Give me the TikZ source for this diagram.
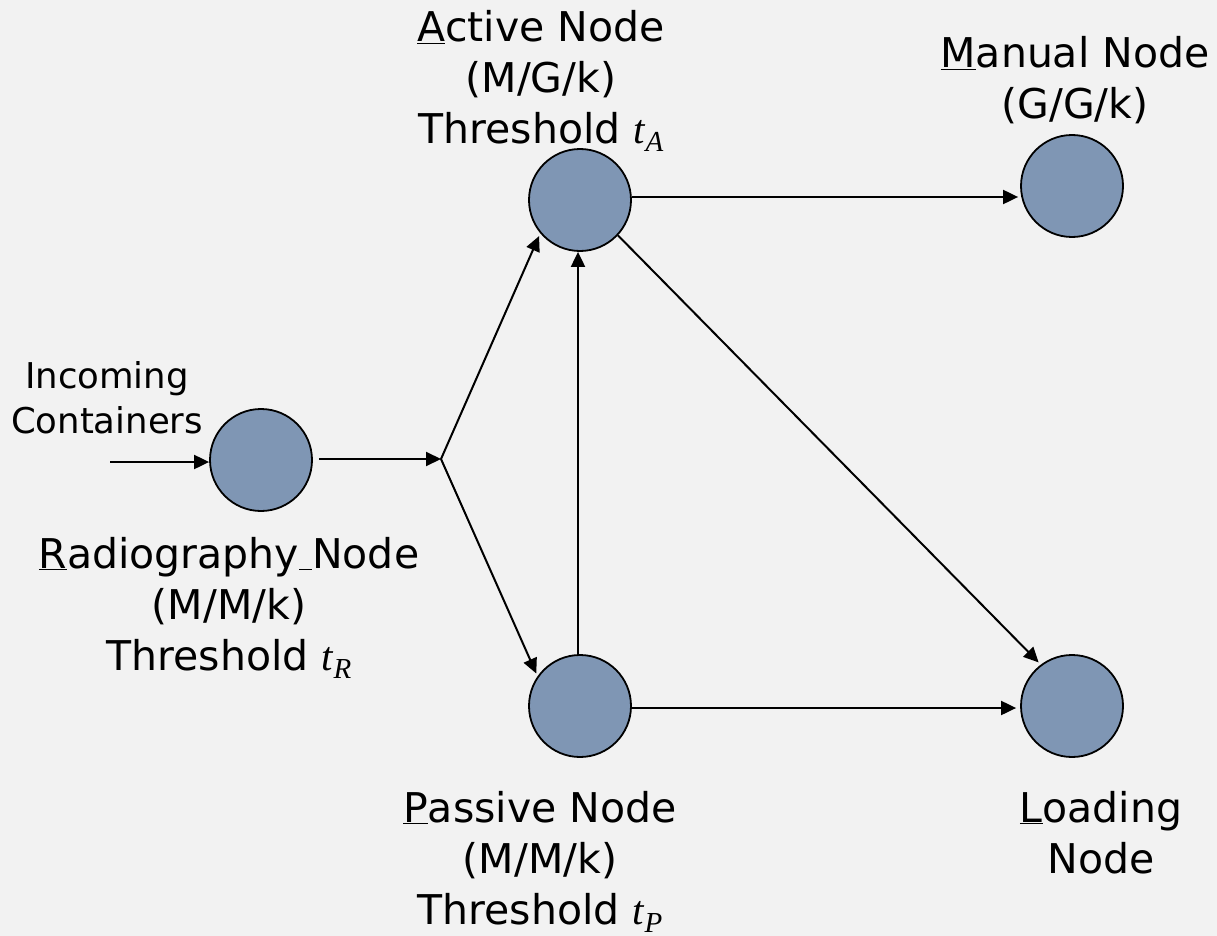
\documentclass[tikz,border=0pt]{standalone}
\usepackage{fontspec}
\setmainfont{DejaVu Sans}
\newfontfamily\tfont{Liberation Serif}
\usetikzlibrary{arrows.meta}
\definecolor{bg}{RGB}{242,242,242}
\definecolor{nodefill}{RGB}{127,150,180}
\newcommand\thr[1]{{\tfont\itshape t\kern0.5pt\raisebox{-8pt}{\fontsize{29}{29}\selectfont #1}}}
\begin{document}
\begin{tikzpicture}[x=1pt,y=-1pt,
  queue/.style={circle,draw=black,line width=1.8pt,fill=nodefill,minimum size=102pt,inner sep=0pt},
  arr/.style={line width=2pt,-{Triangle[length=15pt,width=14pt]}},
  lbl/.style={align=center,inner sep=0pt,anchor=base,font=\fontsize{41}{51}\selectfont},
  small/.style={align=center,inner sep=0pt,anchor=base,font=\fontsize{35.5}{45}\selectfont}]
\fill[bg] (0,0) rectangle (1217,936);
\useasboundingbox (0,0) rectangle (1217,936);
% queues
\node[queue] (R) at (261,460) {};
\node[queue] (A) at (580,200) {};
\node[queue] (M) at (1072,186) {};
\node[queue] (P) at (580,706) {};
\node[queue] (L) at (1072,706) {};
\coordinate (J) at (441,459);
\coordinate (inc) at (110,462);
% labels (anchor = baseline of the last line)
\node[small] (tinc) at (107,433) {Incoming\\Containers};
\node[lbl] (tR) at (229,670) {\underline{R}adiography\underline{\ }Node\\(M/M/k)\\Threshold \thr{R}};
\node[lbl] (tA) at (541,144) {\underline{A}ctive Node\\(M/G/k)\\Threshold \thr{A}};
\node[lbl] (tM) at (1075,119) {\underline{M}anual Node\\(G/G/k)};
\node[lbl] (tP) at (540,924) {\underline{P}assive Node\\(M/M/k)\\Threshold \thr{P}};
\node[lbl] (tL) at (1101,873) {\underline{L}oading\\Node};
% connectors
\draw[arr] (inc) -- (inc -| R.west);
\draw[arr] ([xshift=6pt]R.east |- J) -- (J);
\draw[arr,shorten >=3pt] (J) -- (A.220);
\draw[arr,shorten >=3pt] (J) -- (P.145);
\draw[arr] ([xshift=-2pt]P.north) -- ([xshift=-2pt]A.south);
\draw[arr] ([yshift=3pt]A.east) -- ([yshift=3pt,xshift=-2pt]A.east -| M.west);
\draw[arr,shorten >=3pt] (A.-43) -- (L.127);
\draw[arr] ([yshift=-2pt]P.east) -- ([yshift=-2pt,xshift=-4pt]P.east -| L.west);
\end{tikzpicture}
\end{document}
